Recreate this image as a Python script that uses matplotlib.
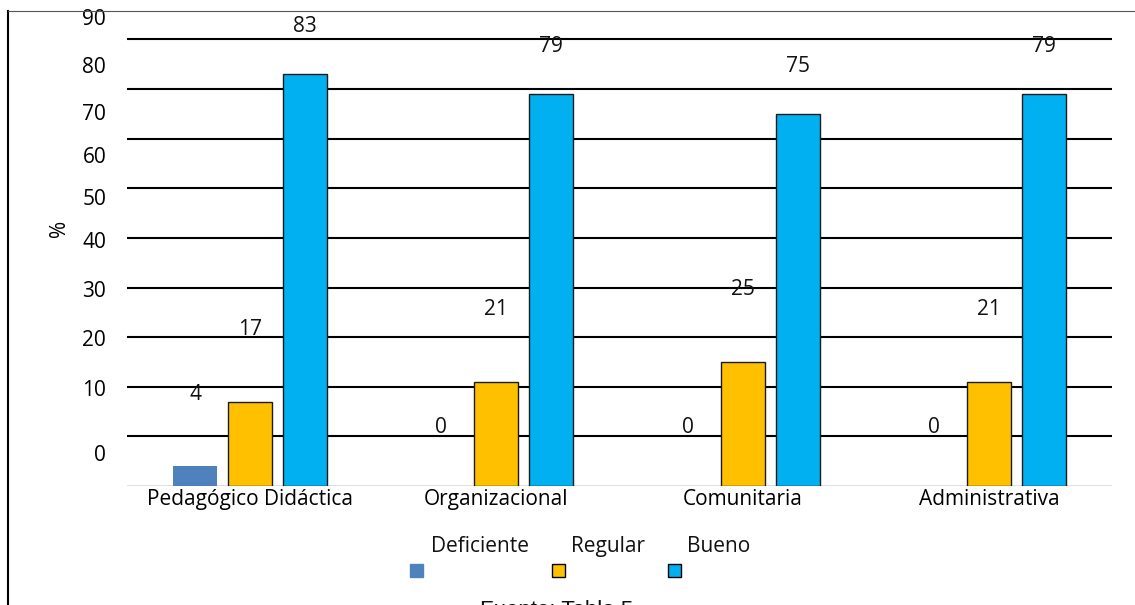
import matplotlib
matplotlib.use("Agg")
import matplotlib.pyplot as plt
import numpy as np
from matplotlib.lines import Line2D
from matplotlib.patches import Rectangle

# Data
categories = ["Pedagógico Didáctica", "Organizacional", "Comunitaria", "Administrativa"]
series_names = ["Deficiente", "Regular", "Bueno"]
deficiente = [4, 0, 0, 0]
regular = [17, 21, 25, 21]
bueno = [83, 79, 75, 79]
y_tick_labels = ["0", "10", "20", "30", "40", "50", "60", "70", "80", "90"]

colors = ["#4F81BD", "#FFC000", "#00B0F0"]
edges = ["none", "#1a1a1a", "#1a1a1a"]
FONT = "Open Sans"

W, H = 1135, 605
fig = plt.figure(figsize=(W / 100, H / 100), dpi=100)
ax = fig.add_axes([127 / W, 1 - 486 / H, 985 / W, 478 / H])
ymax = 478 / 4.9625
ax.set_xlim(-0.5, 3.5)
ax.set_ylim(0, ymax)
for s in ax.spines.values():
    s.set_visible(False)

# horizontal rules
for g in range(10, 100, 10):
    ax.axhline(g, color="black", lw=1.5, zorder=1)
ax.axhline(0, color="#d9d9d9", lw=1.2, zorder=1)

x = np.arange(len(categories))
width = 0.179
step = 0.2236
all_series = [deficiente, regular, bueno]
label_lift = [14.5, 14.5, 9.5]
for i, vals in enumerate(all_series):
    xs = x + (i - 1) * step
    ax.bar(xs, vals, width, color=colors[i], edgecolor=edges[i],
           linewidth=1.0 if edges[i] != "none" else 0, zorder=3)
    for xi, v in zip(xs, vals):
        lift = 11.7 if v == 0 else label_lift[i]
        ax.text(xi, v + lift, f"{v}", ha="center", va="center",
                fontsize=15, family=FONT, color="#111111", zorder=4)

# y labels sit a little off the rules
label_pos = [6.7, 19.8, 29.8, 39.7, 49.6, 58.3, 66.7, 75.4, 84.9, 94.6]
ax.set_yticks(label_pos, y_tick_labels)
ax.tick_params(axis="y", length=0, pad=15, labelsize=15)
for t in ax.get_yticklabels():
    t.set_family(FONT)
ax.set_xticks(x, categories)
ax.tick_params(axis="x", length=0, pad=2, labelsize=15)
for t in ax.get_xticklabels():
    t.set_family(FONT)
ax.set_ylabel("%", fontsize=15, family=FONT)
ax.yaxis.set_label_coords((70 - 127) / 985, (486 - 228) / 478)

# legend
leg_text = [(480, "Deficiente"), (608, "Regular"), (719, "Bueno")]
leg_box = [416.5, 558.5, 674.5]
for (tx, name), bx, c, e in zip(leg_text, leg_box, colors, edges):
    fig.text(tx / W, 1 - 552 / H, name, ha="center", va="baseline",
             fontsize=15, family=FONT, color="#111111")
    fig.add_artist(Rectangle(((bx - 6.5) / W, 1 - 577 / H), 13 / W, 13 / H,
                             facecolor=c, edgecolor=("black" if e != "none" else c),
                             linewidth=1.0, transform=fig.transFigure))

fig.text(480 / W, 1 - 616 / H, "Fuente: Tabla 5", ha="left", va="baseline",
         fontsize=16, family="Liberation Sans", color="#111111")

# frame lines
fig.add_artist(Line2D([8 / W, 8 / W], [0, 1 - 11 / H], color="black", lw=1.5,
                      transform=fig.transFigure))
fig.add_artist(Line2D([8 / W, 1], [1 - 11 / H, 1 - 11 / H], color="#555555", lw=0.8,
                      transform=fig.transFigure))

fig.savefig("out.png", dpi=100)
